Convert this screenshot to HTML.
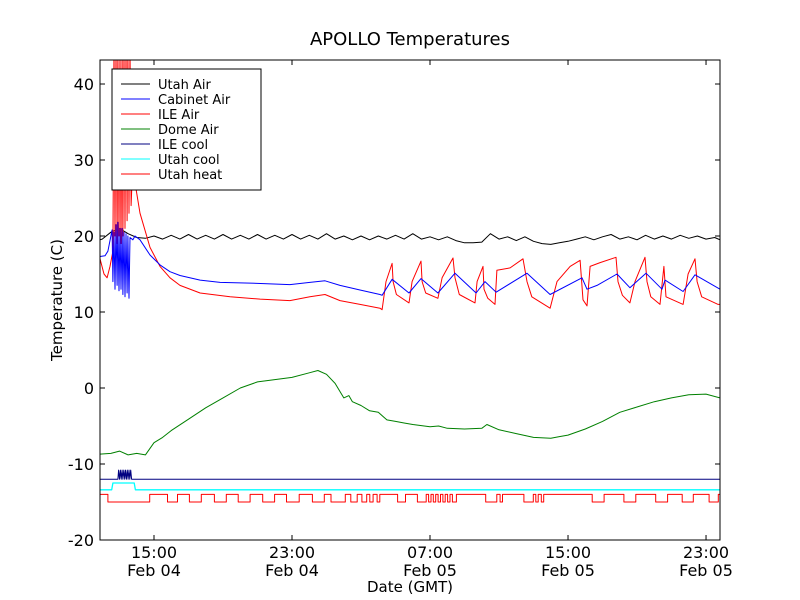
<!DOCTYPE html>
<html><head><meta charset="utf-8"><style>
body{margin:0;background:#fff}
svg{display:block;font-family:"DejaVu Sans","Liberation Sans",sans-serif}
</style></head><body>
<svg id="chart" width="800" height="600">
<rect width="800" height="600" fill="#fff"/>
<defs><clipPath id="clip"><rect x="100" y="60" width="620" height="480"/></clipPath></defs>
<text x="410" y="45" text-anchor="middle" font-size="18">APOLLO Temperatures</text>
<g id="series" clip-path="url(#clip)"></g>
<rect x="100" y="60" width="620" height="480" fill="none" stroke="#000" stroke-width="1"/>
<g id="axes"></g>
<text x="410" y="592" text-anchor="middle" font-size="15">Date (GMT)</text>
<text transform="translate(62,300) rotate(-90)" text-anchor="middle" font-size="15">Temperature (C)</text>
<g id="legend">
<rect x="112" y="69" width="149" height="121" fill="#fff" stroke="#000" stroke-width="1"/>
</g>
</svg>
<script>
const xMin = 11.87, xMax = 47.81, yMin = -20, yMax = 43.16;
const xTickHours = [15, 23, 31, 39, 47];
const xTickTimes = ["15:00", "23:00", "07:00", "15:00", "23:00"];
const xTickDates = ["Feb 04", "Feb 04", "Feb 05", "Feb 05", "Feb 05"];
const yTicks = [-20, -10, 0, 10, 20, 30, 40];

const utahAirT = [11.87,12.0,12.5,13.0,13.5,14.0,14.5,15,15.5,16,16.5,17,17.5,18,18.5,19,19.5,20,20.5,21,21.5,22,22.5,23,23.5,24,24.5,25,25.5,26,26.5,27,27.5,28,28.5,29,29.5,30,30.5,31,31.5,32,32.5,33,33.5,34,34.5,35,35.5,36,36.5,37,37.5,38,38.5,39,39.5,40,40.5,41,41.5,42,42.5,43,43.5,44,44.5,45,45.5,46,46.5,47,47.5,47.81];
const utahAirV = [19.5,19.6,20.5,21,20.3,19.8,19.7,20,19.6,20.1,19.6,20.2,19.6,20.1,19.6,20.2,19.6,20.1,19.6,20.2,19.6,20.1,19.6,20.2,19.6,20.1,19.6,20.3,19.6,20,19.5,20,19.5,20,19.6,20.1,19.6,20.3,19.6,19.9,19.5,19.9,19.4,19.1,19.1,19.2,20.3,19.6,19.9,19.4,19.9,19.3,19.0,18.9,19.1,19.3,19.6,19.9,19.5,19.9,20.2,19.6,19.9,19.5,20.1,19.6,20,19.6,20.1,19.7,20,19.6,19.8,19.5];

const cabT = [11.87,12.16,12.33,12.57,12.62,12.68,12.74,12.80,12.86,12.91,12.97,13.03,13.09,13.15,13.20,13.26,13.32,13.38,13.44,13.49,13.55,13.61,13.78,13.90,14.19,14.77,15.35,15.93,16.51,17.67,18.83,20.57,22.88,24.04,24.91,25.78,26.94,28.10,28.22,28.80,29.78,30.48,31.46,32.45,33.67,34.19,34.83,36.62,37.96,39.81,40.10,40.68,41.84,42.59,43.52,44.45,44.62,45.67,46.36,47.81];
const cabV = [17.3,17.4,18,20.8,14,20.5,13,21.5,13.5,21.8,12.8,21,13,21,12.3,20.5,12,20.3,12.5,20,11.8,19.8,19.5,20,19.5,17.5,16.2,15.3,14.8,14.2,13.9,13.8,13.6,13.9,14.1,13.5,12.9,12.3,12.2,14.3,12.5,14.4,12.5,15.1,12.5,14,12.6,15.1,12.3,14.5,13,13.5,15,13.2,15.1,13,14.2,12.7,14.9,13];

const ileT = [11.87,12.10,12.28,12.45,12.62,12.68,12.74,12.80,12.86,12.91,12.97,13.03,13.09,13.15,13.20,13.26,13.32,13.38,13.44,13.49,13.55,13.61,13.67,13.78,13.90,14.19,14.77,15.35,15.93,16.51,17.67,19.41,21.15,22.88,24.04,24.91,25.78,26.94,28.10,28.22,28.45,28.80,28.86,29.05,29.78,29.96,30.48,30.54,30.75,31.46,31.70,32.33,32.45,32.70,33.61,33.73,34.07,34.13,34.35,34.77,34.88,35.64,36.39,36.62,36.90,37.96,38.36,39.12,39.70,39.87,40.10,40.28,40.86,41.78,41.90,42.15,42.59,42.88,43.46,43.58,43.80,44.33,44.56,44.68,45.67,45.96,46.36,46.48,46.75,47.70,47.81];
const ileV = [17,15,14.5,16,18,45,20,45,19,45,20,45,19,45,20,45,21,45,22,45,23,45,24,30,27,23,18.5,16,14.5,13.5,12.5,12,11.7,11.5,12,12.3,11.5,11,10.5,10.3,14,16.4,14,12.3,11.2,14,16.7,14,12.5,11.8,14.5,17.1,14.5,12.3,11.2,14,16,13,11.8,11,15.5,15.8,17,14,12,10.5,14,16,16.8,11.6,10.8,16,16.5,17.2,14,12.2,11.2,14,17.2,14,12,11,16,12,11,15,17,14,12,11,11];

const domeT = [11.87,12.5,13,13.5,14,14.5,15,15.5,16,17,18,19,20,21,22,23,24,24.5,25,25.5,26,26.3,26.5,27,27.5,28,28.5,29,29.5,30,31,31.5,32,33,34,34.3,35,36,37,38,38.5,39,40,41,42,43,44,45,46,47,47.81];
const domeV = [-8.7,-8.6,-8.3,-8.8,-8.6,-8.8,-7.2,-6.5,-5.6,-4.1,-2.6,-1.3,0,0.8,1.1,1.4,2,2.3,1.8,0.6,-1.3,-1.0,-1.8,-2.3,-3.0,-3.2,-4.2,-4.4,-4.6,-4.8,-5.1,-5.0,-5.3,-5.4,-5.3,-4.8,-5.5,-6.0,-6.5,-6.6,-6.4,-6.2,-5.4,-4.4,-3.2,-2.5,-1.8,-1.3,-0.9,-0.8,-1.3];

const ileCoolT = [11.87,12.91,12.95,13.0,13.05,13.1,13.15,13.2,13.25,13.3,13.35,13.4,13.45,13.5,13.55,13.6,13.65,13.7,47.81];
const ileCoolV = [-12,-12,-10.8,-12,-10.8,-12,-10.8,-12,-10.8,-12,-10.8,-12,-10.8,-12,-10.8,-12,-10.8,-12,-12];

const utahCoolT = [11.87,12.55,12.62,13.85,13.92,47.81];
const utahCoolV = [-13.4,-13.4,-12.5,-12.5,-13.4,-13.4];

const heatOnStart = [11.87,14.75,16.36,17.74,19.19,20.57,21.99,23.42,24.87,26.09,26.78,27.33,27.70,28.09,29.58,30.78,31.06,31.33,31.61,31.88,32.16,32.53,34.87,35.20,36.99,37.27,37.59,41.09,42.93,44.77,46.26,47.71];
const heatOnEnd   = [12.33,15.78,17.05,18.50,19.88,21.30,22.68,24.18,25.26,26.41,27.05,27.51,27.93,29.12,30.27,30.92,31.19,31.47,31.75,32.02,32.30,34.23,35.06,36.44,37.13,37.45,40.40,42.24,44.08,45.62,47.18,47.81];
const heatHigh = -14, heatLow = -15;

const L = 100, R = 720, T = 60, B = 540;
const sx = h => L + (h - xMin) / (xMax - xMin) * (R - L);
const sy = v => B - (v - yMin) / (yMax - yMin) * (B - T);
const NS = "http://www.w3.org/2000/svg";
const series = document.getElementById('series');
const axes = document.getElementById('axes');
const legend = document.getElementById('legend');

function line(ts, vs, color, name, w) {
  const p = document.createElementNS(NS, 'polyline');
  p.setAttribute('points', ts.map((t, i) => sx(t).toFixed(1) + ',' + sy(vs[i]).toFixed(1)).join(' '));
  p.setAttribute('fill', 'none');
  p.setAttribute('stroke', color);
  p.setAttribute('stroke-width', w || 1);
  p.setAttribute('stroke-linejoin', 'round');
  
  
  series.appendChild(p);
}

line(utahAirT, utahAirV, '#000', 'utah-air-line');
line(domeT, domeV, '#008000', 'dome-air-line');
line(ileT, ileV, '#ff0000', 'ile-air-line');
line(cabT, cabV, '#0000ff', 'cabinet-air-line');
line(ileCoolT, ileCoolV, '#000080', 'ile-cool-line');
line(utahCoolT, utahCoolV, '#00ffff', 'utah-cool-line', 1.3);

const heatT = [], heatV = [];
heatOnStart.forEach((s, i) => {
  heatT.push(s, s, heatOnEnd[i], heatOnEnd[i]);
  heatV.push(heatLow, heatHigh, heatHigh, heatLow);
});
line(heatT, heatV, '#ff0000', 'utah-heat-line');

function add(tag, attrs, parent, text) {
  const e = document.createElementNS(NS, tag);
  for (const k in attrs) e.setAttribute(k, attrs[k]);
  if (text !== undefined) e.textContent = text;
  parent.appendChild(e);
  return e;
}

yTicks.forEach(v => {
  const y = sy(v);
  add('line', {x1: L, x2: L + 5, y1: y, y2: y, stroke: '#000'}, axes);
  add('line', {x1: R - 5, x2: R, y1: y, y2: y, stroke: '#000'}, axes);
  const t = add('text', {x: L - 6, y: y + 6, 'text-anchor': 'end', 'font-size': 16}, axes, String(v));
  
  
});
xTickHours.forEach((h, i) => {
  const x = sx(h);
  add('line', {x1: x, x2: x, y1: B, y2: B - 5, stroke: '#000'}, axes);
  add('line', {x1: x, x2: x, y1: T, y2: T + 5, stroke: '#000'}, axes);
  const t1 = add('text', {x: x, y: 558, 'text-anchor': 'middle', 'font-size': 16}, axes, xTickTimes[i]);
  
  
  const t2 = add('text', {x: x, y: 576, 'text-anchor': 'middle', 'font-size': 16}, axes, xTickDates[i]);
  
  
});

const legendLabels = ['Utah Air', 'Cabinet Air', 'ILE Air', 'Dome Air', 'ILE cool', 'Utah cool', 'Utah heat'];
const legendColors = ['#000', '#0000ff', '#ff0000', '#008000', '#000080', '#00ffff', '#ff0000'];
legendLabels.forEach((lab, i) => {
  const y = 84 + i * 15;
  const g = add('g', {}, legend);
  
  
  add('line', {x1: 121, x2: 150, y1: y, y2: y, stroke: legendColors[i]}, g);
  add('text', {x: 158, y: y + 5, 'font-size': 13}, g, lab);
});
</script>
</body></html>
